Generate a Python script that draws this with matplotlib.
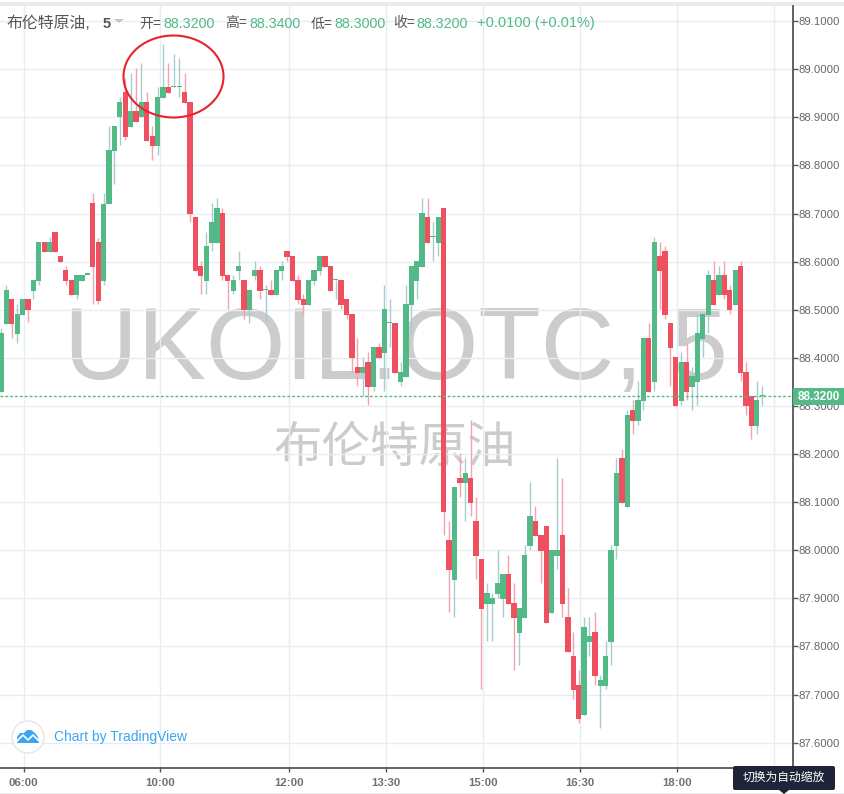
import numpy as np
import matplotlib
matplotlib.use('Agg')
import matplotlib.pyplot as plt
from matplotlib.patches import Ellipse, Rectangle, FancyBboxPatch, Polygon, Circle

plt.rcParams['font.family'] = ['Liberation Sans', 'Noto Sans CJK SC', 'DejaVu Sans']

# 5 minute candles
opens = [88.330,88.471,88.523,88.450,88.489,88.523,88.539,88.560,88.641,88.620,
         88.662,88.612,88.583,88.562,88.531,88.560,88.573,88.721,88.640,88.559,
         88.720,88.831,88.901,88.953,88.880,88.914,88.901,88.932,88.862,88.841,
         88.941,88.963,88.963,88.963,88.953,88.932,88.693,88.591,88.560,88.639,
         88.639,88.701,88.572,88.539,88.581,88.562,88.500,88.570,88.583,88.541,
         88.541,88.531,88.581,88.622,88.612,88.562,88.523,88.510,88.560,88.581,
         88.612,88.591,88.562,88.562,88.523,88.491,88.381,88.369,88.392,88.340,
         88.423,88.410,88.472,88.473,88.350,88.360,88.510,88.560,88.589,88.693,
         88.651,88.639,88.711,88.021,87.938,88.150,88.140,88.150,88.061,87.982,
         87.888,87.888,87.909,87.899,87.951,87.890,87.828,87.859,88.009,88.061,
         88.032,88.050,87.870,87.988,88.032,87.861,87.780,87.720,87.658,87.809,
         87.830,87.718,87.718,87.809,88.009,88.192,88.090,88.292,88.269,88.311,
         88.442,88.350,88.612,88.623,88.473,88.402,88.311,88.392,88.340,88.350,
         88.440,88.490,88.562,88.531,88.573,88.541,88.510,88.591,88.371,88.320,
         88.259,88.320]
highs = [88.462,88.552,88.523,88.512,88.523,88.523,88.562,88.641,88.641,88.651,
         88.662,88.612,88.591,88.562,88.573,88.573,88.573,88.743,88.650,88.743,
         88.882,88.882,88.943,88.982,88.992,89.003,89.013,88.953,88.882,88.963,
         89.053,89.013,89.032,89.024,88.993,88.932,88.693,88.602,88.662,88.722,
         88.733,88.712,88.572,88.572,88.622,88.562,88.541,88.602,88.591,88.552,
         88.562,88.583,88.602,88.622,88.612,88.572,88.533,88.562,88.583,88.612,
         88.612,88.591,88.562,88.562,88.523,88.491,88.442,88.402,88.412,88.423,
         88.431,88.552,88.523,88.473,88.392,88.552,88.591,88.602,88.733,88.733,
         88.683,88.693,88.711,88.061,88.132,88.202,88.192,88.271,88.111,87.982,
         87.932,87.911,88.001,87.951,87.990,87.932,87.880,88.011,88.142,88.092,
         88.032,88.050,88.001,88.192,88.150,87.922,87.830,87.751,87.861,87.861,
         87.872,87.741,87.811,88.011,88.192,88.211,88.292,88.313,88.352,88.442,
         88.473,88.652,88.641,88.633,88.473,88.402,88.413,88.431,88.381,88.492,
         88.492,88.583,88.602,88.591,88.602,88.552,88.583,88.602,88.392,88.320,
         88.352,88.342]
lows = [88.330,88.471,88.442,88.431,88.489,88.474,88.523,88.552,88.620,88.620,
        88.620,88.600,88.552,88.531,88.523,88.560,88.573,88.512,88.512,88.551,
        88.720,88.762,88.843,88.853,88.880,88.891,88.901,88.851,88.812,88.822,
        88.941,88.951,88.963,88.943,88.930,88.683,88.581,88.533,88.533,88.622,
        88.639,88.562,88.502,88.533,88.562,88.481,88.473,88.562,88.523,88.473,
        88.531,88.531,88.562,88.602,88.560,88.512,88.491,88.510,88.552,88.572,
        88.589,88.539,88.523,88.502,88.481,88.371,88.342,88.321,88.302,88.331,
        88.400,88.331,88.423,88.369,88.342,88.360,88.450,88.523,88.589,88.639,
        88.602,88.612,88.032,87.872,87.861,88.111,88.061,88.071,87.940,87.712,
        87.811,87.811,87.901,87.861,87.888,87.751,87.762,87.859,88.001,88.030,
        87.932,87.849,87.870,87.961,87.861,87.789,87.691,87.641,87.658,87.780,
        87.720,87.631,87.712,87.762,87.982,88.098,88.090,88.242,88.261,88.292,
        88.329,88.331,88.501,88.481,88.342,88.300,88.302,88.313,88.292,88.302,
        88.402,88.452,88.510,88.531,88.523,88.492,88.510,88.352,88.282,88.232,
        88.242,88.302]
closes = [88.451,88.541,88.471,88.492,88.523,88.500,88.562,88.641,88.620,88.641,
          88.620,88.600,88.560,88.531,88.573,88.573,88.573,88.589,88.519,88.720,
          88.833,88.882,88.932,88.860,88.914,88.891,88.932,88.851,88.841,88.943,
          88.963,88.951,88.963,88.963,88.930,88.699,88.581,88.570,88.633,88.683,
          88.712,88.570,88.560,88.562,88.591,88.500,88.541,88.583,88.539,88.541,
          88.531,88.583,88.591,88.610,88.560,88.521,88.510,88.562,88.583,88.612,
          88.589,88.539,88.562,88.510,88.489,88.400,88.369,88.381,88.340,88.423,
          88.400,88.502,88.472,88.369,88.371,88.512,88.591,88.602,88.701,88.639,
          88.651,88.693,88.080,87.959,88.132,88.140,88.161,88.098,87.988,87.878,
          87.911,87.901,87.932,87.951,87.888,87.859,87.880,87.990,88.071,88.030,
          87.999,87.849,88.001,88.001,87.888,87.789,87.710,87.649,87.841,87.822,
          87.739,87.730,87.780,88.001,88.161,88.098,88.281,88.269,88.313,88.442,
          88.329,88.641,88.581,88.490,88.421,88.300,88.392,88.329,88.363,88.452,
          88.492,88.573,88.510,88.573,88.531,88.500,88.583,88.369,88.300,88.259,
          88.313,88.320]

price_ticks = [87.6,87.7,87.8,87.9,88.0,88.1,88.2,88.3,88.4,88.5,88.6,88.7,88.8,88.9,89.0,89.1]
time_ticks = [4.2, 29.4, 53.3, 71.3, 89.3, 107.3, 125.3, 143.2]
time_labels = ['06:00', '10:00', '12:00', '13:30', '15:00', '16:30', '18:00', '']
last_price = 88.32

GREEN = '#53B987'
RED = '#EF5060'
GREEN_WICK = '#A5CDCF'
RED_WICK = '#F7A3AE'
GRID = '#E6EEF3'
AXIS = '#555555'
LABEL = '#666666'
WATERMARK = '#CCCCCC'
BLUE = '#3BA5EE'

W, H = 845, 794
fig = plt.figure(figsize=(W / 100, H / 100), dpi=100, facecolor='white')
ax = fig.add_axes([0, 26 / H, 793 / W, 762 / H])

opens = np.array(opens)
closes = np.array(closes)
highs = np.array(highs)
lows = np.array(lows)
x = np.arange(len(opens))
up = closes >= opens
bar_col = np.where(up, GREEN, RED)
wick_col = np.where(up, GREEN_WICK, RED_WICK)

ax.vlines(x, lows, highs, colors=wick_col, lw=1, zorder=3)
bottoms = np.minimum(opens, closes)
heights = np.maximum(np.abs(closes - opens), 0.0025)
ax.bar(x, heights, bottom=bottoms, width=0.98, color=bar_col, lw=0, zorder=4)

ax.axhline(last_price, color=GREEN, lw=1, ls=(0, (2, 1.5)), zorder=5)

ax.set_xlim(-0.185, 146.7)
ax.set_ylim(87.5474, 89.1316)
ax.set_xticks(time_ticks)
ax.set_xticklabels(time_labels)
ax.set_yticks(price_ticks)
ax.set_yticklabels(['%.4f' % p for p in price_ticks])
ax.yaxis.tick_right()
ax.grid(True, color=GRID, lw=1, zorder=0)
ax.set_axisbelow(True)
ax.tick_params(axis='y', length=3.5, width=1, color=AXIS, labelcolor=LABEL, labelsize=8.2, pad=0.5)
ax.tick_params(axis='x', length=3, width=1, color=AXIS, labelcolor='#707070', labelsize=8.2, pad=4)
for lab in ax.get_xticklabels():
    lab.set_fontweight('bold')
for side in ['top', 'left']:
    ax.spines[side].set_visible(False)
for side in ['right', 'bottom']:
    ax.spines[side].set_color(AXIS)
    ax.spines[side].set_linewidth(1.3)

# overlay in pixel coordinates for the header and decorations
ov = fig.add_axes([0, 0, 1, 1], facecolor='none', zorder=5)
ov.set_xlim(0, W)
ov.set_ylim(H, 0)
ov.axis('off')

# watermark sits behind the candles
bg = fig.add_axes([0, 0, 1, 1], facecolor='none', zorder=1)
bg.set_xlim(0, W)
bg.set_ylim(H, 0)
bg.axis('off')
ax.set_zorder(2)
ax.patch.set_alpha(0)
bg.text(396, 342, 'UKOIL.OTC, 5', color=WATERMARK, fontsize=73.5, ha='center', va='center_baseline')
bg.text(395, 444, '布伦特原油', color=WATERMARK, fontsize=34.9, ha='center', va='center_baseline')

# chrome at the top and bottom
bg.add_patch(Rectangle((0, 2), W, 4, color='#E9ECEF', lw=0))
ov.add_patch(Rectangle((0, 793), W, 1, color='#E9ECEF', lw=0))

# header
hdr = '#555555'
ov.text(7, 22, '布伦特原油,', color=hdr, fontsize=11.4, va='center_baseline')
ov.text(103, 22, '5', color=hdr, fontsize=10.5, fontweight='bold', va='center_baseline')
ov.add_patch(Polygon([[114, 19], [124, 19], [119, 23]], color='#C4C4C4', lw=0))
pairs = [(139, '开=', 163, '88.3200'), (225, '高=', 249, '88.3400'),
         (311, '低=', 334, '88.3000'), (393, '收=', 416, '88.3200')]
for x0, name, x1, val in pairs:
    ov.text(x0, 22, name, color=hdr, fontsize=10, va='center_baseline')
    ov.text(x1, 22, val, color=GREEN, fontsize=10.3, va='center_baseline')
ov.text(477, 22, '+0.0100 (+0.01%)', color=GREEN, fontsize=10.5, va='center_baseline')

# red circle around the top
ov.add_patch(Ellipse((173.5, 76.5), 100, 82, fill=False, ec='#E5242C', lw=1.5))

# current price tag
ov.add_patch(Rectangle((793, 388), 52, 17, color=GREEN, lw=0))
ov.text(819, 396.5, '88.3200', color='white', fontsize=8.4, fontweight='bold', ha='center', va='center')

# TradingView logo
ov.add_patch(Circle((28, 737), 16, fc='white', ec='#E3E6E9', lw=1))
ov.add_patch(Polygon([[17, 743], [17, 737], [20, 733], [24, 733], [27, 730], [31, 730],
                      [35, 733], [38, 737], [39, 743]], color=BLUE, lw=0))
ov.plot([17, 23, 28, 33, 39], [741, 735, 740, 735, 741], color='white', lw=1.2)
ov.text(54, 736.5, 'Chart by TradingView', color=BLUE, fontsize=10, va='center')

# zoom tooltip
ov.add_patch(FancyBboxPatch((735, 768), 98, 20, boxstyle='round,pad=2,rounding_size=2',
                            fc='#1F2438', ec='none'))
ov.add_patch(Polygon([[779, 790], [789, 790], [784, 794]], color='#1F2438', lw=0))
ov.text(784, 778, '切换为自动缩放', color='white', fontsize=8.5, ha='center', va='center')

fig.savefig('out.png', dpi=100)
